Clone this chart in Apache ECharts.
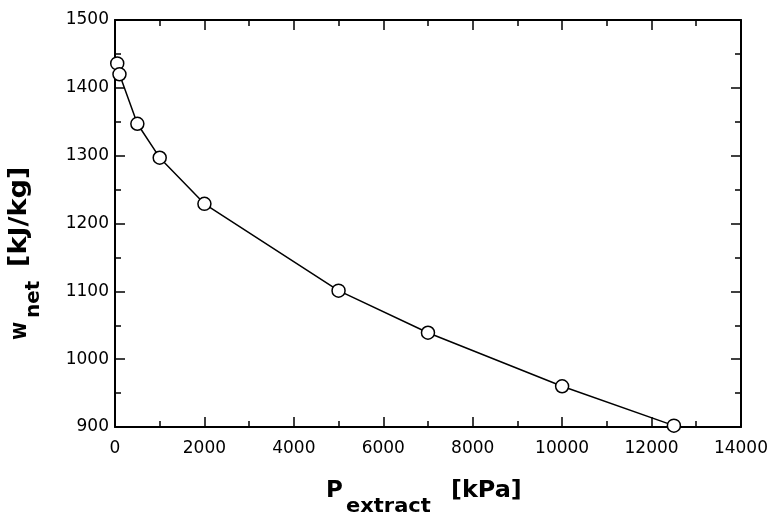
<!DOCTYPE html>
<html>
<head>
<meta charset="utf-8">
<script src="https://cdn.jsdelivr.net/npm/echarts@6/dist/echarts.min.js"></script>
<style>
html,body{margin:0;padding:0;background:#fff;}
#c{width:771px;height:518px;}
</style>
</head>
<body>
<div id="c"></div>
<script>
// Data
var pExtract = [50, 100, 500, 1000, 2000, 5000, 7000, 10000, 12500];   // kPa
var wNet = [1436, 1420, 1347, 1297, 1229, 1101, 1039, 960, 902];       // kJ/kg
var xTicks = [0, 2000, 4000, 6000, 8000, 10000, 12000, 14000];
var yTicks = [900, 1000, 1100, 1200, 1300, 1400, 1500];

var chart = echarts.init(document.getElementById('c'), null, {renderer: 'canvas'});
var FONT = 'DejaVu Sans';
var axisLine = {show: true, onZero: false, lineStyle: {color: '#000', width: 2}};
function tickCommon() {
  return {
    axisTick: {show: true, inside: true, length: 10, lineStyle: {color: '#000', width: 1.5}},
    minorTick: {show: true, splitNumber: 2, length: 6, lineStyle: {color: '#000', width: 1.5}},
    splitLine: {show: false},
    minorSplitLine: {show: false}
  };
}
function plain(v) { return String(v); }
var data = pExtract.map(function (p, i) { return [p, wNet[i]]; });

function lbl(text, x, y, size, rot, sx) {
  return {
    type: 'text', x: x, y: y, rotation: rot || 0, scaleX: sx || 1, z: 100,
    style: {
      text: text, fill: '#000',
      font: 'bold ' + size + 'px "DejaVu Sans"',
      textAlign: 'left', textVerticalAlign: 'middle'
    }
  };
}

var option = {
  backgroundColor: '#fff',
  animation: false,
  grid: {left: 115, right: 30, top: 20, bottom: 91, containLabel: false},
  xAxis: [
    Object.assign({
      type: 'value', position: 'bottom', min: xTicks[0], max: xTicks[xTicks.length - 1], interval: 2000,
      axisLine: axisLine,
      axisLabel: {color: '#000', fontFamily: FONT, fontSize: 17, margin: 13, formatter: plain}
    }, tickCommon()),
    Object.assign({
      type: 'value', position: 'top', min: xTicks[0], max: xTicks[xTicks.length - 1], interval: 2000,
      axisLine: axisLine,
      axisLabel: {show: false}
    }, tickCommon())
  ],
  yAxis: [
    Object.assign({
      type: 'value', position: 'left', min: yTicks[0], max: yTicks[yTicks.length - 1], interval: 100,
      axisLine: axisLine,
      axisLabel: {color: '#000', fontFamily: FONT, fontSize: 17, margin: 6, formatter: plain}
    }, tickCommon()),
    Object.assign({
      type: 'value', position: 'right', min: yTicks[0], max: yTicks[yTicks.length - 1], interval: 100,
      axisLine: axisLine,
      axisLabel: {show: false}
    }, tickCommon())
  ],
  series: [{
    type: 'line',
    data: data,
    clip: false,
    symbol: 'circle',
    symbolSize: 13,
    showAllSymbol: true,
    lineStyle: {color: '#000', width: 1.5},
    itemStyle: {color: '#fff', borderColor: '#000', borderWidth: 1.5},
    z: 5
  }],
  graphic: [
    lbl('P', 326, 491, 23),
    lbl('extract', 346, 507, 20, 0, 1.05),
    lbl('[kPa]', 451, 491, 23, 0, 1.04),
    lbl('w', 20, 340, 23, Math.PI / 2, 0.86),
    lbl('net', 34, 318, 20, Math.PI / 2),
    lbl('[kJ/kg]', 19.5, 267, 24, Math.PI / 2, 1.13)
  ]
};
chart.setOption(option);
</script>
</body>
</html>
